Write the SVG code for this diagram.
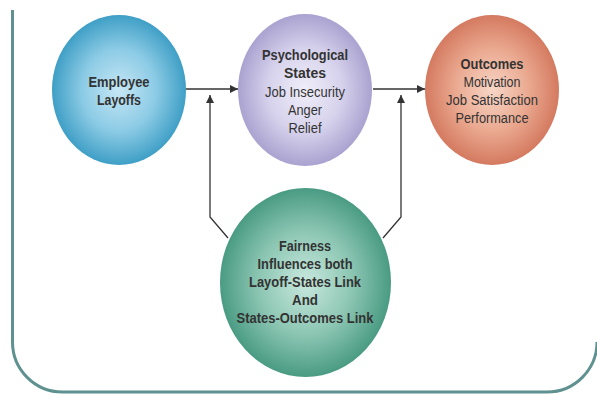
<svg xmlns="http://www.w3.org/2000/svg" width="597" height="394" viewBox="0 0 597 394">
<defs>
<radialGradient id="gBlue" cx="0.5" cy="0.5" r="0.5"><stop offset="0" stop-color="#c6e7f5"/><stop offset="0.55" stop-color="#8ccbe5"/><stop offset="1" stop-color="#3f9fc6"/></radialGradient>
<radialGradient id="gLav" cx="0.5" cy="0.5" r="0.5"><stop offset="0" stop-color="#f0eef9"/><stop offset="0.55" stop-color="#d6d2ec"/><stop offset="1" stop-color="#aaa2d0"/></radialGradient>
<radialGradient id="gOrg" cx="0.5" cy="0.5" r="0.5"><stop offset="0" stop-color="#f7d6c6"/><stop offset="0.55" stop-color="#eaa990"/><stop offset="1" stop-color="#d47a60"/></radialGradient>
<radialGradient id="gGrn" cx="0.5" cy="0.5" r="0.5"><stop offset="0" stop-color="#c8e8de"/><stop offset="0.55" stop-color="#8cc6b3"/><stop offset="1" stop-color="#4a9b83"/></radialGradient>
<marker id="arr" viewBox="0 0 10 10" refX="10" refY="5" markerWidth="10" markerHeight="8" markerUnits="userSpaceOnUse" orient="auto"><path d="M0,0 L10,5 L0,10 Z" fill="#333"/></marker>
<style>
text{font-family:"Liberation Sans",Arial,sans-serif;font-size:14px;fill:#333;text-anchor:middle}
.b{font-weight:bold}
.c{fill:none;stroke:#333;stroke-width:1.3}
</style>
</defs>
<path d="M12.5 10 V342 A50 50 0 0 0 62.5 392 H547 A50 50 0 0 0 597 342" fill="none" stroke="#5f9190" stroke-width="3"/>
<g id="connectors">
<path class="c" d="M186 89 H238" marker-end="url(#arr)"/>
<path class="c" d="M373 89 H425" marker-end="url(#arr)"/>
<path class="c" d="M228 238 L210 217 V95" marker-end="url(#arr)"/>
<path class="c" d="M383 238 L401 217 V95" marker-end="url(#arr)"/>
</g>
<g id="layoffs">
<ellipse cx="119" cy="90" rx="67" ry="75" fill="url(#gBlue)"/>
<text class="b" x="119" y="87" textLength="61" lengthAdjust="spacingAndGlyphs">Employee</text>
<text class="b" x="119" y="105" textLength="44" lengthAdjust="spacingAndGlyphs">Layoffs</text>
</g>
<g id="states">
<ellipse cx="305" cy="90" rx="67" ry="76" fill="url(#gLav)"/>
<text class="b" x="305" y="60" textLength="86" lengthAdjust="spacingAndGlyphs">Psychological</text>
<text class="b" x="305" y="78" textLength="42" lengthAdjust="spacingAndGlyphs">States</text>
<text x="305" y="97" textLength="80" lengthAdjust="spacingAndGlyphs">Job Insecurity</text>
<text x="305" y="115" textLength="34" lengthAdjust="spacingAndGlyphs">Anger</text>
<text x="305" y="133" textLength="33" lengthAdjust="spacingAndGlyphs">Relief</text>
</g>
<g id="outcomes">
<ellipse cx="492" cy="90" rx="67" ry="75" fill="url(#gOrg)"/>
<text class="b" x="492" y="69" textLength="63" lengthAdjust="spacingAndGlyphs">Outcomes</text>
<text x="492" y="87" textLength="57" lengthAdjust="spacingAndGlyphs">Motivation</text>
<text x="492" y="105" textLength="92" lengthAdjust="spacingAndGlyphs">Job Satisfaction</text>
<text x="492" y="123" textLength="73" lengthAdjust="spacingAndGlyphs">Performance</text>
</g>
<g id="fairness">
<ellipse cx="305.5" cy="282.5" rx="85.5" ry="94.5" fill="url(#gGrn)"/>
<text class="b" x="305" y="251" textLength="52" lengthAdjust="spacingAndGlyphs">Fairness</text>
<text class="b" x="305" y="269" textLength="95" lengthAdjust="spacingAndGlyphs">Influences both</text>
<text class="b" x="305" y="287" textLength="112" lengthAdjust="spacingAndGlyphs">Layoff-States Link</text>
<text class="b" x="305" y="305" textLength="26" lengthAdjust="spacingAndGlyphs">And</text>
<text class="b" x="305" y="323" textLength="137" lengthAdjust="spacingAndGlyphs">States-Outcomes Link</text>
</g>
</svg>
